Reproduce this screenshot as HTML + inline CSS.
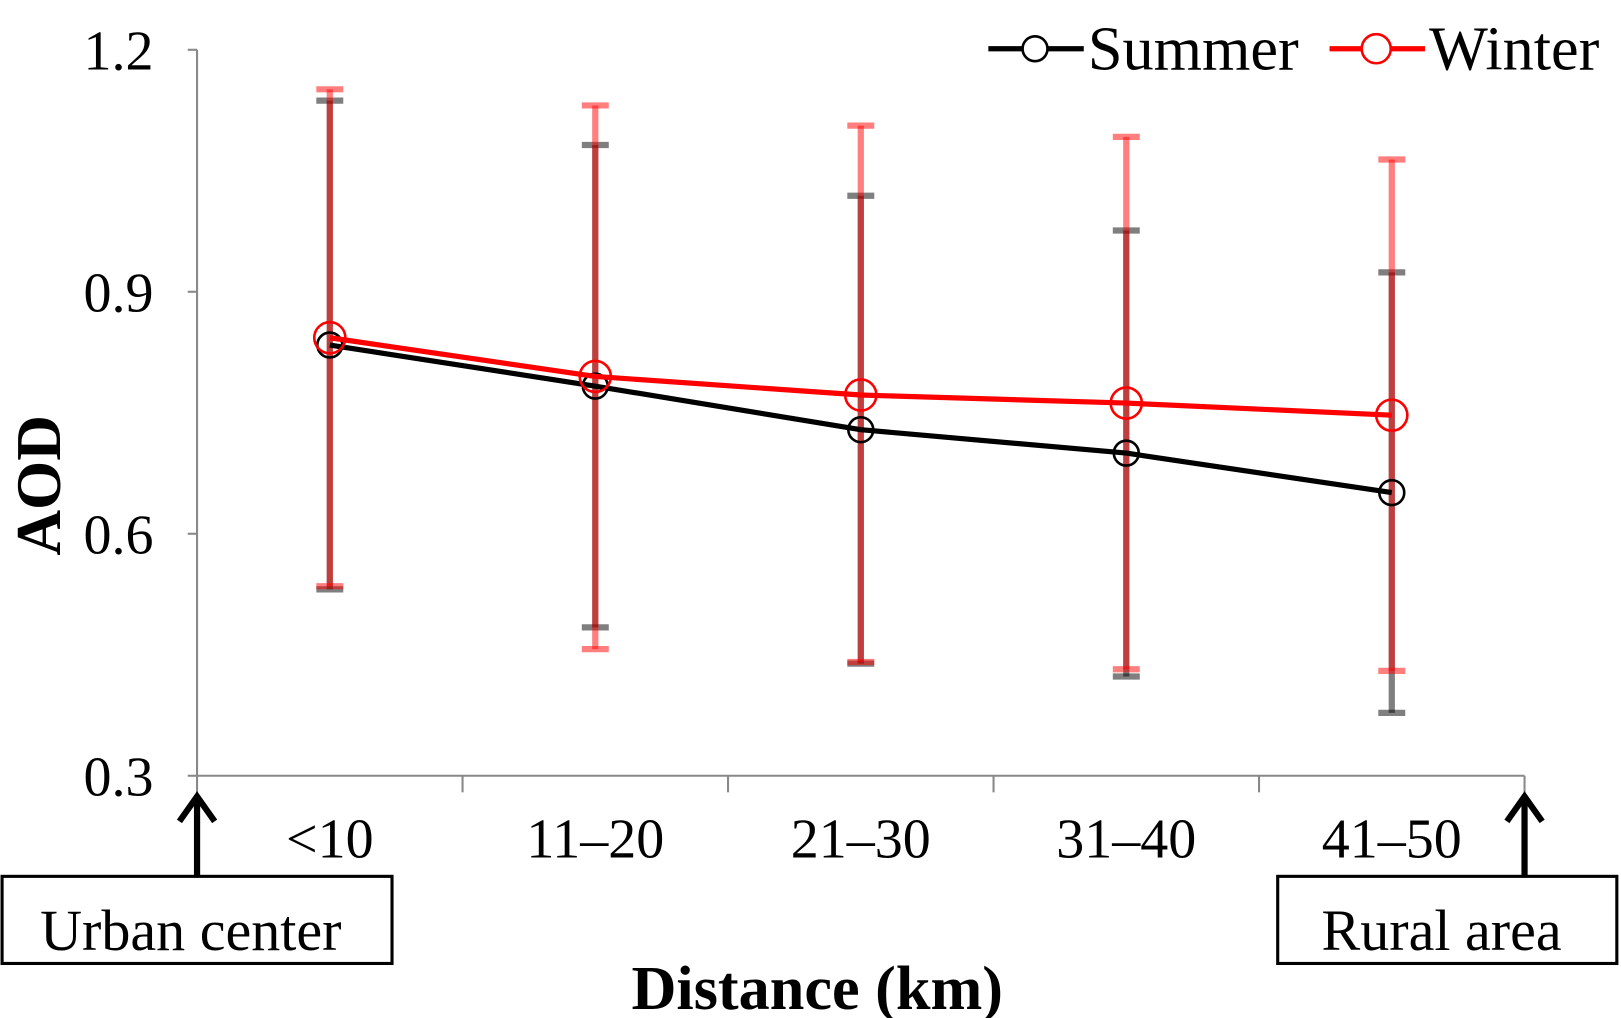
<!DOCTYPE html>
<html><head><meta charset="utf-8"><style>
body{margin:0;background:#fff;}
svg{display:block;font-family:"Liberation Serif",serif;}
</style></head><body>
<svg id="chart" width="1621" height="1018" viewBox="0 0 1621 1018" xmlns="http://www.w3.org/2000/svg">
<g transform="scale(1.0371)">
<g id="axes"></g>
<g id="bars"></g>
<g id="lines"></g>
<text x="0" y="0" transform="translate(58,468) rotate(-90)" text-anchor="middle" font-size="61" font-weight="bold">AOD</text>
<text x="788" y="973" text-anchor="middle" font-size="60" font-weight="bold">Distance (km)</text>
<g>
 <g>
  <line x1="953" y1="47" x2="1045" y2="47" stroke="#000" stroke-width="5"/>
  <circle cx="998" cy="47" r="12" fill="#fff" stroke="#000" stroke-width="2.5"/>
  <text x="1049" y="67" font-size="60">Summer</text>
 </g>
 <g>
  <line x1="1282" y1="47" x2="1374" y2="47" stroke="#f00" stroke-width="5"/>
  <circle cx="1327" cy="47" r="14" fill="#fff" stroke="#f00" stroke-width="2.5"/>
  <text x="1378" y="67" font-size="60">Winter</text>
 </g>
</g>
<g>
 <line x1="190" y1="768" x2="190" y2="845" stroke="#000" stroke-width="6"/>
 <polyline points="173,792 190,768 207,792" fill="none" stroke="#000" stroke-width="6"/>
 <rect x="2" y="845" width="376" height="84" fill="#fff" stroke="#000" stroke-width="3"/>
 <text x="184" y="916" text-anchor="middle" font-size="56">Urban center</text>
</g>
<g>
 <line x1="1470" y1="768" x2="1470" y2="845" stroke="#000" stroke-width="6"/>
 <polyline points="1453,792 1470,768 1487,792" fill="none" stroke="#000" stroke-width="6"/>
 <rect x="1232" y="845" width="327" height="84" fill="#fff" stroke="#000" stroke-width="3"/>
 <text x="1390" y="916" text-anchor="middle" font-size="56">Rural area</text>
</g>
</g>
<script>
const categories=["<10","11–20","21–30","31–40","41–50"];
const summer=[0.834,0.783,0.729,0.700,0.651];
const winter=[0.843,0.795,0.772,0.762,0.747];
const summerHigh=[1.137,1.082,1.019,0.976,0.924];
const summerLow=[0.531,0.484,0.439,0.423,0.378];
const winterHigh=[1.151,1.131,1.106,1.092,1.064];
const winterLow=[0.535,0.457,0.441,0.432,0.430];
const yTicks=[0.3,0.6,0.9,1.2];
const NS="http://www.w3.org/2000/svg";
const X0=190,X1=1470,Y0=748,Y1=48,YMIN=0.3,YMAX=1.2;
const step=(X1-X0)/categories.length;
function xs(i){return X0+step*(i+0.5);}
function ys(v){return Y0-(v-YMIN)/(YMAX-YMIN)*(Y0-Y1);}
function mk(tag,attrs,parent){const e=document.createElementNS(NS,tag);for(const k in attrs)e.setAttribute(k,attrs[k]);parent.appendChild(e);return e;}
const axes=document.getElementById('axes');
let a=mk('line',{x1:X0,y1:Y1,x2:X0,y2:Y0,stroke:'#888','stroke-width':2},axes);


a=mk('line',{x1:X0,y1:Y0,x2:X1,y2:Y0,stroke:'#888','stroke-width':2},axes);


yTicks.forEach(t=>{
 const y=ys(t);
 mk('line',{x1:X0-9,y1:y,x2:X0,y2:y,stroke:'#888','stroke-width':2},axes);
 const tx=mk('text',{x:X0-42,y:y+19,'text-anchor':'end','font-size':54},axes);
 tx.textContent=t.toFixed(1);
 
 
});
for(let i=0;i<=categories.length;i++){
 const x=X0+step*i;
 mk('line',{x1:x,y1:Y0,x2:x,y2:Y0+16,stroke:'#888','stroke-width':2},axes);
}
categories.forEach((c,i)=>{
 const tx=mk('text',{x:xs(i),y:827,'text-anchor':'middle','font-size':54},axes);
 tx.textContent=c;
 
 
});
const bars=document.getElementById('bars');
function errbar(i,lo,hi,col,name){
 const g=mk('g',{},bars);
 
 
 const x=xs(i);
 mk('line',{x1:x,y1:ys(hi),x2:x,y2:ys(lo),stroke:col,'stroke-width':6},g);
 mk('line',{x1:x-13,y1:ys(hi),x2:x+13,y2:ys(hi),stroke:col,'stroke-width':6},g);
 mk('line',{x1:x-13,y1:ys(lo),x2:x+13,y2:ys(lo),stroke:col,'stroke-width':6},g);
}
categories.forEach((c,i)=>{
 errbar(i,summerLow[i],summerHigh[i],'rgba(0,0,0,0.5)','summer-error-bar');
 errbar(i,winterLow[i],winterHigh[i],'rgba(255,0,0,0.5)','winter-error-bar');
});
const lines=document.getElementById('lines');
function series(vals,col,name,r){
 const g=mk('g',{},lines);
 
 
 mk('polyline',{points:vals.map((v,i)=>xs(i)+','+ys(v)).join(' '),fill:'none',stroke:col,'stroke-width':5,'stroke-linejoin':'round'},g);
 vals.forEach((v,i)=>{
  const c=mk('circle',{cx:xs(i),cy:ys(v),r:r,fill:'none',stroke:col,'stroke-width':2.5},g);
  
  
 });
}
series(summer,'#000','summer-line',12);
series(winter,'#f00','winter-line',15);
</script>
</svg>
</body></html>
